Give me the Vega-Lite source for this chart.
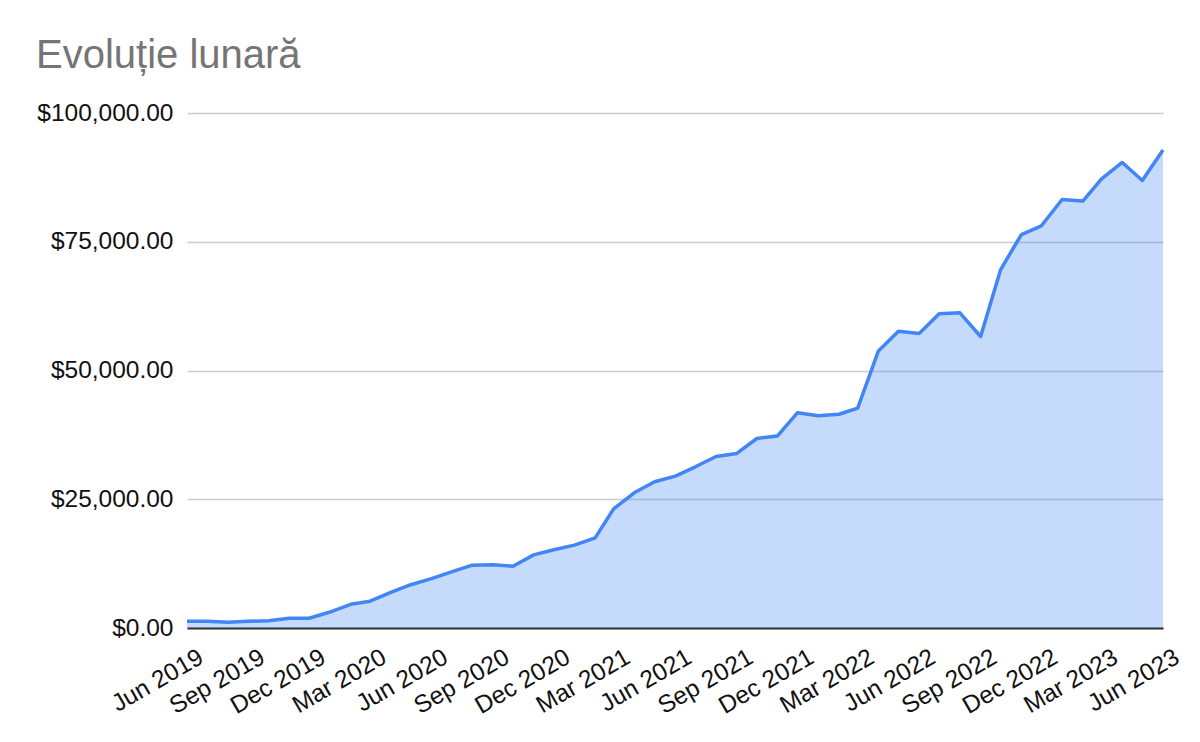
{
  "$schema": "https://vega.github.io/schema/vega-lite/v6.json",
  "autosize": {"type": "none"},
  "width": 976,
  "height": 515,
  "padding": {"left": 187, "top": 113, "right": 37, "bottom": 114},
  "title": {
    "text": "Evoluție lunară",
    "anchor": "start",
    "frame": "group",
    "dx": -151,
    "offset": 24,
    "font": "Liberation Sans",
    "fontSize": 40,
    "fontWeight": "normal",
    "color": "#757575"
  },
  "data": {
    "values": [
      {"month": "2019-06-01", "value": 1300},
      {"month": "2019-07-01", "value": 1300},
      {"month": "2019-08-01", "value": 1100},
      {"month": "2019-09-01", "value": 1300},
      {"month": "2019-10-01", "value": 1400},
      {"month": "2019-11-01", "value": 1900},
      {"month": "2019-12-01", "value": 1900},
      {"month": "2020-01-01", "value": 3100},
      {"month": "2020-02-01", "value": 4600},
      {"month": "2020-03-01", "value": 5200},
      {"month": "2020-04-01", "value": 6900},
      {"month": "2020-05-01", "value": 8400},
      {"month": "2020-06-01", "value": 9600},
      {"month": "2020-07-01", "value": 10900},
      {"month": "2020-08-01", "value": 12200},
      {"month": "2020-09-01", "value": 12300},
      {"month": "2020-10-01", "value": 12000},
      {"month": "2020-11-01", "value": 14200},
      {"month": "2020-12-01", "value": 15200},
      {"month": "2021-01-01", "value": 16100},
      {"month": "2021-02-01", "value": 17500},
      {"month": "2021-03-01", "value": 23200},
      {"month": "2021-04-01", "value": 26300},
      {"month": "2021-05-01", "value": 28400},
      {"month": "2021-06-01", "value": 29500},
      {"month": "2021-07-01", "value": 31300},
      {"month": "2021-08-01", "value": 33300},
      {"month": "2021-09-01", "value": 33900},
      {"month": "2021-10-01", "value": 36800},
      {"month": "2021-11-01", "value": 37300},
      {"month": "2021-12-01", "value": 41800},
      {"month": "2022-01-01", "value": 41200},
      {"month": "2022-02-01", "value": 41500},
      {"month": "2022-03-01", "value": 42700},
      {"month": "2022-04-01", "value": 53800},
      {"month": "2022-05-01", "value": 57600},
      {"month": "2022-06-01", "value": 57200},
      {"month": "2022-07-01", "value": 61000},
      {"month": "2022-08-01", "value": 61200},
      {"month": "2022-09-01", "value": 56600},
      {"month": "2022-10-01", "value": 69600},
      {"month": "2022-11-01", "value": 76400},
      {"month": "2022-12-01", "value": 78100},
      {"month": "2023-01-01", "value": 83200},
      {"month": "2023-02-01", "value": 82900},
      {"month": "2023-03-01", "value": 87200},
      {"month": "2023-04-01", "value": 90400},
      {"month": "2023-05-01", "value": 86900},
      {"month": "2023-06-01", "value": 92800}
    ]
  },
  "encoding": {
    "x": {
      "field": "month",
      "type": "temporal",
      "title": null,
      "scale": {
        "type": "utc",
        "domain": [
          {"year": 2019, "month": 6, "date": 1, "utc": true},
          {"year": 2023, "month": 6, "date": 1, "utc": true}
        ]
      },
      "axis": {
        "values": [
          {"year": 2019, "month": 6, "date": 1, "utc": true},
          {"year": 2019, "month": 9, "date": 1, "utc": true},
          {"year": 2019, "month": 12, "date": 1, "utc": true},
          {"year": 2020, "month": 3, "date": 1, "utc": true},
          {"year": 2020, "month": 6, "date": 1, "utc": true},
          {"year": 2020, "month": 9, "date": 1, "utc": true},
          {"year": 2020, "month": 12, "date": 1, "utc": true},
          {"year": 2021, "month": 3, "date": 1, "utc": true},
          {"year": 2021, "month": 6, "date": 1, "utc": true},
          {"year": 2021, "month": 9, "date": 1, "utc": true},
          {"year": 2021, "month": 12, "date": 1, "utc": true},
          {"year": 2022, "month": 3, "date": 1, "utc": true},
          {"year": 2022, "month": 6, "date": 1, "utc": true},
          {"year": 2022, "month": 9, "date": 1, "utc": true},
          {"year": 2022, "month": 12, "date": 1, "utc": true},
          {"year": 2023, "month": 3, "date": 1, "utc": true},
          {"year": 2023, "month": 6, "date": 1, "utc": true}
        ],
        "format": "%b %Y",
        "labelAngle": -30,
        "labelAlign": "right",
        "labelBaseline": "top",
        "labelOffset": 8,
        "labelPadding": 17,
        "labelOverlap": false,
        "labelBound": false,
        "labelFlush": false,
        "ticks": false,
        "grid": false,
        "domain": true,
        "domainColor": "#333333",
        "domainWidth": 2,
        "zindex": 1
      }
    },
    "y": {
      "field": "value",
      "type": "quantitative",
      "title": null,
      "scale": {"domain": [0, 100000], "nice": false},
      "axis": {
        "values": [0, 25000, 50000, 75000, 100000],
        "format": "$,.2f",
        "labelPadding": 14,
        "ticks": false,
        "domain": false,
        "grid": true,
        "gridColor": "#cccccc",
        "gridWidth": 1.3
      }
    }
  },
  "layer": [
    {"mark": {"type": "area", "color": "#4285F4", "fillOpacity": 0.3}},
    {"mark": {"type": "line", "color": "#4285F4", "strokeWidth": 3.5, "strokeJoin": "round"}}
  ],
  "config": {
    "view": {"stroke": null},
    "axis": {
      "labelFont": "Liberation Sans",
      "labelFontSize": 24.5,
      "labelColor": "#111111"
    }
  }
}
